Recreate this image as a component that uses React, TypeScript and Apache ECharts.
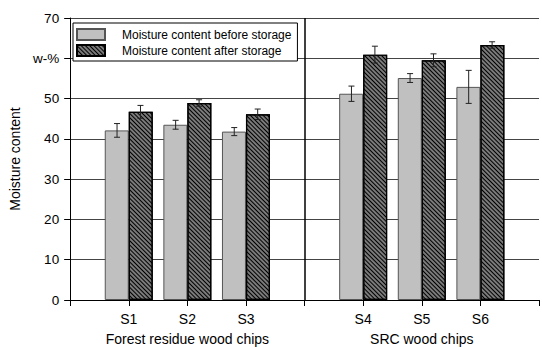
import React, { useEffect, useRef } from "react";
import * as echarts from "echarts";

const categories = ["", "S1", "S2", "S3", "", "S4", "S5", "S6", ""];
const groupLabels = ["", "", "Forest residue wood chips", "", "", "", "SRC wood chips", "", ""];
const beforeValues = [42.1, 43.5, 41.8, 51.2, 55.1, 52.9];
const beforeErrors = [1.7, 1.1, 1.0, 1.9, 1.1, 4.1];
const afterValues = [46.7, 48.9, 46.1, 60.9, 59.5, 63.3];
const afterErrors = [1.6, 0.8, 1.3, 2.1, 1.6, 0.8];
const sampleIndex = [1, 2, 3, 5, 6, 7];
const yTicks = [0, 10, 20, 30, 40, 50, 60, 70];
const yTickLabels = ["0", "10", "20", "30", "40", "50", "w-%", "70"];

const FONT = "'Liberation Sans', Arial, sans-serif";

function toCategoryData(vals: number[]) {
  const out: any[] = categories.map(() => "-");
  sampleIndex.forEach((ci, i) => (out[ci] = vals[i]));
  return out;
}

function errData(vals: number[], errs: number[]) {
  return sampleIndex.map((ci, i) => [ci, vals[i], errs[i]]);
}

function errorRender(side: number) {
  return (params: any, api: any) => {
    const x = api.value(0);
    const y = api.value(1);
    const e = api.value(2);
    const band = api.size([1, 0])[0];
    const off = side * band * 0.2;
    const top = api.coord([x, y + e]);
    const bot = api.coord([x, y - e]);
    const cx = top[0] + off;
    const style = { stroke: "#222", lineWidth: 1 };
    return {
      type: "group",
      children: [
        { type: "line", shape: { x1: cx, y1: top[1], x2: cx, y2: bot[1] }, style },
        { type: "line", shape: { x1: cx - 3, y1: top[1], x2: cx + 3, y2: top[1] }, style },
        { type: "line", shape: { x1: cx - 3, y1: bot[1], x2: cx + 3, y2: bot[1] }, style },
      ],
    };
  };
}

export default function App() {
  const ref = useRef<HTMLDivElement>(null);
  useEffect(() => {
    document.body.style.margin = "0";
    if (!ref.current) return;
    const chart = echarts.init(ref.current, null, { renderer: "svg" });
    chart.setOption({
      animation: false,
      backgroundColor: "#fff",
      textStyle: { fontFamily: FONT },
      legend: {
        orient: "vertical",
        left: 73,
        top: 23,
        padding: [5, 6, 4, 3],
        itemWidth: 28,
        itemHeight: 11,
        itemGap: 3,
        backgroundColor: "#fff",
        borderColor: "#000",
        borderWidth: 1,
        borderRadius: 0,
        icon: "rect",
        textStyle: { fontFamily: FONT, fontSize: 12, color: "#000", padding: [0, 0, 0, 12] },
        data: ["Moisture content before storage", "Moisture content after storage"],
      },
      grid: { left: 66, top: 18, width: 480, height: 282, containLabel: false },
      xAxis: [
        {
          type: "category",
          data: categories,
          boundaryGap: false,
          axisLine: { lineStyle: { color: "#000", width: 1 } },
          axisTick: { show: true, length: 6, interval: 0, lineStyle: { color: "#000" } },
          axisLabel: { interval: 0, margin: 12, fontSize: 14, color: "#000", fontFamily: FONT },
          splitLine: {
            show: true,
            interval: (index: number) => index === 4,
            lineStyle: { color: "#000", width: 1.5 },
          },
        },
        {
          type: "category",
          data: groupLabels,
          boundaryGap: false,
          position: "bottom",
          offset: 20,
          axisLine: { show: false },
          axisTick: { show: false },
          axisLabel: { interval: 0, margin: 12, fontSize: 14, color: "#000", fontFamily: FONT },
          splitLine: { show: false },
        },
      ],
      yAxis: {
        type: "value",
        min: 0,
        max: 70,
        interval: 10,
        name: "Moisture content",
        nameLocation: "middle",
        nameRotate: 90,
        nameGap: 32,
        nameTextStyle: { fontSize: 14, color: "#000", fontFamily: FONT },
        axisLine: { show: true, lineStyle: { color: "#000", width: 1 } },
        axisTick: { show: true, length: 6, lineStyle: { color: "#000" } },
        axisLabel: {
          margin: 11,
          fontSize: 13.5,
          color: "#000",
          fontFamily: FONT,
          formatter: (v: number) => yTickLabels[yTicks.indexOf(v)] ?? String(v),
        },
        splitLine: { show: true, lineStyle: { color: "#444", width: 1 } },
      },
      series: [
        {
          name: "Moisture content before storage",
          type: "bar",
          data: toCategoryData(beforeValues),
          barWidth: 24,
          barGap: "0%",
          itemStyle: { color: "#c0c0c0", borderColor: "#555", borderWidth: 1 },
          z: 2,
        },
        {
          name: "Moisture content after storage",
          type: "bar",
          data: toCategoryData(afterValues),
          barWidth: 24,
          barGap: "0%",
          itemStyle: {
            color: "#7a7a7a",
            borderColor: "#000",
            borderWidth: 1.2,
            decal: {
              symbol: "rect",
              symbolSize: 1,
              color: "#000",
              dashArrayX: [1, 0],
              dashArrayY: [1, 2],
              rotation: Math.PI / 4,
            },
          },
          z: 2,
        },
        {
          type: "custom",
          renderItem: errorRender(-1),
          data: errData(beforeValues, beforeErrors),
          z: 5,
          silent: true,
        },
        {
          type: "custom",
          renderItem: errorRender(1),
          data: errData(afterValues, afterErrors),
          z: 5,
          silent: true,
        },
      ],
    });
    return () => chart.dispose();
  }, []);
  return <div ref={ref} style={{ width: 542, height: 347 }} />;
}
